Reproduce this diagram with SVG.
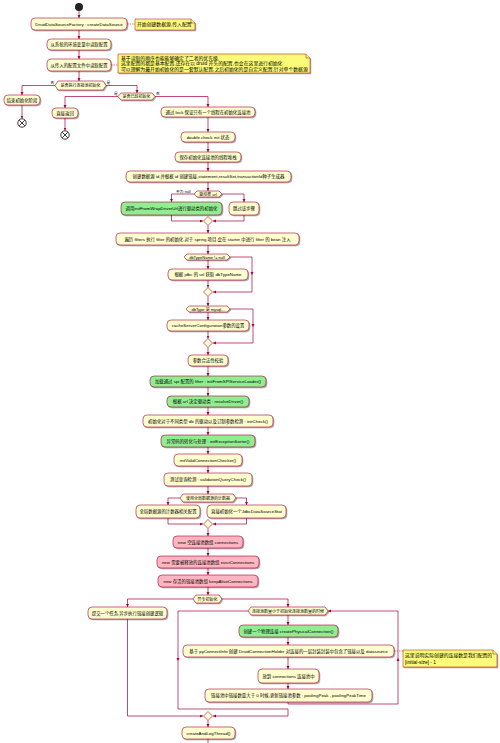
<svg xmlns="http://www.w3.org/2000/svg" xmlns:xlink="http://www.w3.org/1999/xlink" width="500" height="743" viewBox="0 0 500 743">
<style>
.a{fill:#FEFECE;stroke:#A80036;stroke-width:0.6}
.g{fill:#90EE90;stroke:#A80036;stroke-width:0.6}
.p{fill:#FFB6C1;stroke:#A80036;stroke-width:0.6}
.n{fill:#FBFB77;stroke:#A80036;stroke-width:0.5}
.t{font-family:"Liberation Sans","Noto Sans CJK SC",sans-serif;font-size:4.4px;fill:#000;text-anchor:middle}
.h{font-family:"Liberation Sans","Noto Sans CJK SC",sans-serif;font-size:4px;fill:#000;text-anchor:middle}
.nt{font-family:"Liberation Sans","Noto Sans CJK SC",sans-serif;font-size:4.85px;fill:#000}
.l{font-family:"Liberation Sans","Noto Sans CJK SC",sans-serif;font-size:3.8px;fill:#000}
.c{fill:none;stroke:#A80036;stroke-width:0.7}
.d{fill:none;stroke:#A80036;stroke-width:0.5;stroke-dasharray:1.5,1}
.sh{filter:url(#s)}
</style>
<defs>
<filter id="s" x="-10%" y="-30%" width="130%" height="180%"><feDropShadow dx="1" dy="1" stdDeviation="0.6" flood-color="#000" flood-opacity="0.35"/></filter>
<marker id="ah" markerWidth="4" markerHeight="4" refX="3" refY="1.5" orient="auto" markerUnits="userSpaceOnUse"><path d="M0,0 L3,1.5 L0,3 z" fill="#A80036"/></marker>
<path id="ad" d="M-1.5,-3 L1.5,-3 L0,0 z" fill="#A80036"/>
<path id="au" d="M-1.5,3 L1.5,3 L0,0 z" fill="#A80036"/>
</defs>

<g id="connectors">
<path class="c" d="M79,11 V18" marker-end="url(#ah)"/>
<path class="c" d="M79,30 V39" marker-end="url(#ah)"/>
<path class="c" d="M79,50 V59" marker-end="url(#ah)"/>
<path class="c" d="M79,71 V81" marker-end="url(#ah)"/>
<path class="c" d="M55,85.5 H22 V95" marker-end="url(#ah)"/>
<path class="c" d="M22,105 V118.5" marker-end="url(#ah)"/>
<path class="c" d="M106,85.5 H137 V93" marker-end="url(#ah)"/>
<path class="c" d="M118,96.5 H65 V108" marker-end="url(#ah)"/>
<path class="c" d="M65,118 V130.5" marker-end="url(#ah)"/>
<path class="c" d="M155,96.5 H208 V107" marker-end="url(#ah)"/>
<path class="c" d="M208,117 V132" marker-end="url(#ah)"/>
<path class="c" d="M208,142 V152" marker-end="url(#ah)"/>
<path class="c" d="M208,162 V171" marker-end="url(#ah)"/>
<path class="c" d="M208,182 V191" marker-end="url(#ah)"/>
<path class="c" d="M194,194 H171.5 V202" marker-end="url(#ah)"/>
<path class="c" d="M222,194 H244 V202" marker-end="url(#ah)"/>
<path class="c" d="M171.5,215 V221 H203" marker-end="url(#ah)"/>
<path class="c" d="M244,215 V221 H213" marker-end="url(#ah)"/>
<path class="c" d="M208,225.5 V233" marker-end="url(#ah)"/>
<path class="c" d="M208,245 V254" marker-end="url(#ah)"/>
<path class="c" d="M208,260 V269" marker-end="url(#ah)"/>
<path class="c" d="M208,280 V287.5" marker-end="url(#ah)"/>
<path class="c" d="M230,257 H252 V292 H213" marker-end="url(#ah)"/>
<use xlink:href="#ad" x="252" y="275"/>
<path class="c" d="M208,296.5 V306" marker-end="url(#ah)"/>
<path class="c" d="M208,312 V320" marker-end="url(#ah)"/>
<path class="c" d="M208,331 V338.5" marker-end="url(#ah)"/>
<path class="c" d="M230,309 H253 V343 H213" marker-end="url(#ah)"/>
<use xlink:href="#ad" x="253" y="327"/>
<path class="c" d="M208,347.5 V355" marker-end="url(#ah)"/>
<path class="c" d="M208,366 V376" marker-end="url(#ah)"/>
<path class="c" d="M208,387 V396" marker-end="url(#ah)"/>
<path class="c" d="M208,407 V415" marker-end="url(#ah)"/>
<path class="c" d="M208,427 V435" marker-end="url(#ah)"/>
<path class="c" d="M208,447 V454" marker-end="url(#ah)"/>
<path class="c" d="M208,466 V473" marker-end="url(#ah)"/>
<path class="c" d="M208,486 V494" marker-end="url(#ah)"/>
<path class="c" d="M180,498 H168 V505" marker-end="url(#ah)"/>
<path class="c" d="M236,498 H246.5 V505" marker-end="url(#ah)"/>
<path class="c" d="M168,518 V524 H203" marker-end="url(#ah)"/>
<path class="c" d="M246.5,518 V524 H213" marker-end="url(#ah)"/>
<path class="c" d="M208,528.5 V536" marker-end="url(#ah)"/>
<path class="c" d="M208,548 V556" marker-end="url(#ah)"/>
<path class="c" d="M208,568 V575" marker-end="url(#ah)"/>
<path class="c" d="M208,587 V595" marker-end="url(#ah)"/>
<path class="c" d="M193,599 H127.5 V607" marker-end="url(#ah)"/>
<path class="c" d="M127.5,619 V716 H203" marker-end="url(#ah)"/>
<path class="c" d="M222,599 H288 V607" marker-end="url(#ah)"/>
<path class="c" d="M288,615 V625" marker-end="url(#ah)"/>
<path class="c" d="M288,637 V645" marker-end="url(#ah)"/>
<path class="c" d="M288,657 V669" marker-end="url(#ah)"/>
<path class="c" d="M288,683 V689" marker-end="url(#ah)"/>
<path class="c" d="M288,702 V704 H398 V611 H328" marker-end="url(#ah)"/>
<use xlink:href="#au" x="398" y="658"/>
<path class="c" d="M248,611 H178 V709 H288 V716 H213" marker-end="url(#ah)"/>
<use xlink:href="#ad" x="178" y="661"/>
<path class="c" d="M208,720.5 V727" marker-end="url(#ah)"/>
<path class="c" d="M208,739 V743"/>
<path class="d" d="M127,24 H135"/>
<path class="d" d="M111,65 H118"/>
<path class="d" d="M394,651 H403"/>
</g>

<g id="start"><circle cx="79" cy="7" r="4" fill="#222"/></g>

<g id="n1"><rect class="a sh" x="31" y="18" width="96" height="12" rx="4"/><text class="t" x="79" y="25.5">DruidDataSourceFactory : createDataSource</text></g>
<g id="note1"><path class="n sh" d="M135,19 H191 L195,23 V30 H135 Z"/><path class="n" d="M191,19 V23 H195"/><text class="nt" x="137" y="26.3">开始创建数据源,传入配置</text></g>
<g id="n2"><rect class="a sh" x="47" y="39" width="64" height="11" rx="4"/><text class="t" x="79" y="46">从系统的环境变量中读取配置</text></g>
<g id="n3"><rect class="a sh" x="47" y="59" width="64" height="12" rx="4"/><text class="t" x="79" y="66.5">从传入的配置文件中读取配置</text></g>
<g id="note2"><path class="n sh" d="M118,54 H306 L310,58 V73 H118 Z"/><path class="n" d="M306,54 V58 H310"/>
<text class="nt" x="121" y="59.5">基于读取的顺序也能能够确定了二者的优先级,</text>
<text class="nt" x="121" y="65.2">这里配置的都是基本配置,还存在以 druid 开头的配置,也会在这里进行初始化</text>
<text class="nt" x="121" y="70.9">可以理解为最开始初始化的是一套默认配置,之后初始化的是自定义配置,针对单个数据源</text></g>

<g id="h1"><path class="a sh" d="M55,85.5 L58,81 H103 L106,85.5 L103,90 H58 Z"/><text class="h" x="80.5" y="87">是否执行连接池初始化</text></g>
<text class="l" x="50.5" y="84">否</text>
<text class="l" x="106.5" y="84">是</text>
<g id="n4"><rect class="a sh" x="4" y="95" width="36" height="10" rx="4"/><text class="t" x="22" y="101.5">结束初始化阶段</text></g>
<g id="end1"><circle cx="22" cy="123" r="4.2" fill="#fff" stroke="#222" stroke-width="0.9"/><path d="M19.2,120.2 L24.8,125.8 M24.8,120.2 L19.2,125.8" stroke="#222" stroke-width="0.9"/></g>

<g id="h2"><path class="a sh" d="M118,96.5 L121,93 H152 L155,96.5 L152,100 H121 Z"/><text class="h" x="136.5" y="98">是否已经初始化</text></g>
<text class="l" x="114" y="95">是</text>
<text class="l" x="156" y="95">否</text>
<g id="n5"><rect class="a sh" x="52" y="108" width="26" height="10" rx="4"/><text class="t" x="65" y="114.5">直接返回</text></g>
<g id="end2"><circle cx="65" cy="135" r="4.2" fill="#fff" stroke="#222" stroke-width="0.9"/><path d="M62.2,132.2 L67.8,137.8 M67.8,132.2 L62.2,137.8" stroke="#222" stroke-width="0.9"/></g>

<g id="n6"><rect class="a sh" x="161" y="107" width="94" height="10" rx="4"/><text class="t" x="208" y="113.5">通过 lock 保证只有一个线程在初始化连接池</text></g>
<g id="n7"><rect class="a sh" x="181" y="132" width="54" height="10" rx="4"/><text class="t" x="208" y="138.5">double check init 状态</text></g>
<g id="n8"><rect class="a sh" x="175" y="152" width="66" height="10" rx="4"/><text class="t" x="208" y="158.5">保存初始化连接池的线程堆栈</text></g>
<g id="n9"><rect class="a sh" x="126" y="171" width="165" height="11" rx="4"/><text class="t" x="208.5" y="178">创建数据源 id,并根据 id 创建链接,statement,resultSet,transactionId种子生成器</text></g>

<g id="h3"><path class="a sh" d="M194,194 L197,191 H219 L222,194 L219,197 H197 Z"/><text class="h" x="208" y="195.6">驱动类 url</text></g>
<text class="l" x="176" y="192.5">不为 null</text>
<g id="n10"><rect class="g sh" x="121" y="202" width="101" height="13" rx="4"/><text class="t" x="171.5" y="210">调用initFromWrapDriverUrl进行驱动类的初始化</text></g>
<g id="n11"><rect class="a sh" x="229" y="202" width="30" height="13" rx="4"/><text class="t" x="244" y="210">跳过该步骤</text></g>
<g id="m1"><path class="a" d="M208,216.5 L212.5,221 L208,225.5 L203.5,221 Z"/></g>

<g id="n12"><rect class="a sh" x="116" y="233" width="183" height="12" rx="4"/><text class="t" x="207.5" y="240.5">遍历 filters 执行 filter 的初始化,对于 spring 项目,会在 starter 中进行 filter 的 bean 注入</text></g>
<g id="h4"><path class="a sh" d="M184,257 L187,254 H227 L230,257 L227,260 H187 Z"/><text class="h" x="207" y="258.5">dbTypeName != null</text></g>
<g id="n13"><rect class="a sh" x="168" y="269" width="80" height="11" rx="4"/><text class="t" x="208" y="276">根据 jdbc 的 url 获取 dbTypeName</text></g>
<g id="m2"><path class="a" d="M208,287.5 L212.5,292 L208,296.5 L203.5,292 Z"/></g>
<g id="h5"><path class="a sh" d="M186,309 L189,306 H227 L230,309 L227,312 H189 Z"/><text class="h" x="208" y="310.5">dbType 是 mysql...</text></g>
<g id="n14"><rect class="a sh" x="167" y="320" width="82" height="11" rx="4"/><text class="t" x="208" y="327">cacheServerConfiguration参数的设置</text></g>
<g id="m3"><path class="a" d="M208,338.5 L212.5,343 L208,347.5 L203.5,343 Z"/></g>
<g id="n15"><rect class="a sh" x="188" y="355" width="40" height="11" rx="4"/><text class="t" x="208" y="362">参数合法性校验</text></g>
<g id="n16"><rect class="g sh" x="150" y="376" width="116" height="11" rx="4"/><text class="t" x="208" y="383">加载通过 spi 配置的 filter : initFromSPIServiceLoader()</text></g>
<g id="n17"><rect class="g sh" x="167" y="396" width="82" height="11" rx="4"/><text class="t" x="208" y="403">根据 url 决定驱动类 : resolveDriver()</text></g>
<g id="n18"><rect class="a sh" x="143" y="415" width="130" height="12" rx="4"/><text class="t" x="208" y="422.5">初始化对于不同类型 db 的驱动以及订制参数检测 : initCheck()</text></g>
<g id="n19"><rect class="g sh" x="161" y="435" width="94" height="12" rx="4"/><text class="t" x="208" y="442.5">异常码的转化与处理 : initExceptionSorter()</text></g>
<g id="n20"><rect class="a sh" x="174" y="454" width="68" height="12" rx="4"/><text class="t" x="208" y="461.5">initValidConnectionChecker()</text></g>
<g id="n21"><rect class="a sh" x="164" y="473" width="88" height="13" rx="4"/><text class="t" x="208" y="481">测试查询检测 : validationQueryCheck()</text></g>
<g id="h6"><path class="a sh" d="M180,498 L183,494 H233 L236,498 L233,502 H183 Z"/><text class="h" x="208" y="499.5">使用全局数据源的计数器</text></g>
<g id="n22"><rect class="a sh" x="136" y="505" width="64" height="13" rx="4"/><text class="t" x="168" y="513">全局数据源的计数器相关配置</text></g>
<g id="n23"><rect class="a sh" x="207" y="505" width="79" height="13" rx="4"/><text class="t" x="246.5" y="513">直接初始化一个JdbcDataSourceStat</text></g>
<g id="m4"><path class="a" d="M208,519.5 L212.5,524 L208,528.5 L203.5,524 Z"/></g>
<g id="n24"><rect class="p sh" x="173" y="536" width="70" height="12" rx="4"/><text class="t" x="208" y="543.5">new 空连接池数组 connections</text></g>
<g id="n25"><rect class="p sh" x="157" y="556" width="102" height="12" rx="4"/><text class="t" x="208" y="563.5">new 需要被释放的连接池数组 evictConnections</text></g>
<g id="n26"><rect class="p sh" x="158" y="575" width="100" height="12" rx="4"/><text class="t" x="208" y="582.5">new 存活的链接池数组 keepAliveConnections</text></g>
<g id="h7"><path class="a sh" d="M193,599 L196,595 H219 L222,599 L219,603 H196 Z"/><text class="h" x="207.5" y="600.5">异步初始化</text></g>
<g id="n27"><rect class="a sh" x="88" y="607" width="79" height="12" rx="4"/><text class="t" x="127.5" y="614.5">提交一个任务,异步执行链接创建逻辑</text></g>
<g id="h8"><path class="a sh" d="M248,611 L251,607 H325 L328,611 L325,615 H251 Z"/><text class="h" x="288" y="612.5">连接池数量小于初始化连接池数量的时候</text></g>
<g id="n28"><rect class="g sh" x="239" y="625" width="99" height="12" rx="4"/><text class="t" x="288.5" y="632.5">创建一个物理连接 createPhysicalConnection()</text></g>
<g id="n29"><rect class="a sh" x="183" y="645" width="211" height="12" rx="4"/><text class="t" x="288.5" y="652.5">基于 pyConnectInfo 创建 DruidConnectionHolder 对连接的一层封装封装中包含了链接以及 datasource</text></g>
<g id="note3"><path class="n sh" d="M403,650 H493 L497,654 V667 H403 Z"/><path class="n" d="M493,650 V654 H497"/>
<text class="nt" x="405" y="657">这里说明实际创建的连接数是我们配置的</text>
<text class="nt" x="405" y="663.5">[initial-size] - 1</text></g>
<g id="n30"><rect class="a sh" x="258" y="669" width="61" height="14" rx="4"/><text class="t" x="288.5" y="677.5">放到 connections 连接池中</text></g>
<g id="n31"><rect class="a sh" x="205" y="689" width="167" height="13" rx="4"/><text class="t" x="288.5" y="697">链接池中链接数量大于 0 时候,更新链接池参数 : poolingPeak , poolingPeakTime</text></g>
<g id="m5"><path class="a" d="M208,711.5 L212.5,716 L208,720.5 L203.5,716 Z"/></g>
<g id="n32"><rect class="a sh" x="182" y="727" width="53" height="12" rx="4"/><text class="t" x="208.5" y="734.5">createAndLogThread()</text></g>
</svg>
